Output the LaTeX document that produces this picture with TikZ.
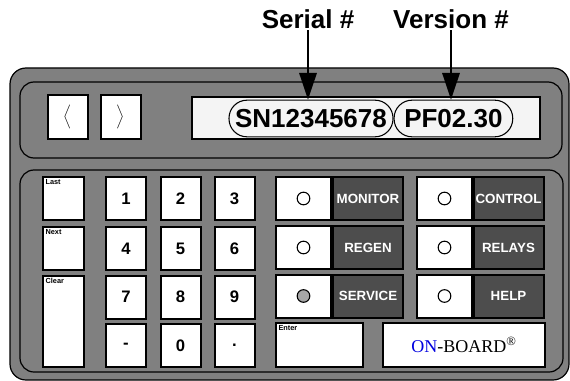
\documentclass[tikz,border=0pt]{standalone}
\usepackage{fontspec}
\setmainfont{Liberation Sans}
\newfontfamily\brandfont{Liberation Serif}
\usepackage{xcolor}
\usepackage{tikz}
\usetikzlibrary{arrows.meta,positioning}

\definecolor{casegray}{HTML}{808080}
\definecolor{keydark}{HTML}{4D4D4D}
\definecolor{lcdfill}{HTML}{F4F4F4}
\definecolor{ledgray}{HTML}{A6A6A6}
\definecolor{brandblue}{HTML}{0000E0}

\tikzset{
	key/.style={draw,line width=1.5pt,fill=white,minimum width=30pt,minimum height=32.25pt,inner sep=0pt,font=\fontsize{12.5}{14}\selectfont\bfseries},
	sidekey/.style={key,minimum width=30.75pt},
	ledkey/.style={key,minimum width=41pt},
	fnkey/.style={key,fill=keydark,text=white,minimum width=52.5pt,font=\fontsize{10}{12}\selectfont\bfseries},
	tag/.style={anchor=north west,inner sep=2.5pt,font=\fontsize{5.5}{6}\selectfont\bfseries},
	led/.style={draw,circle,line width=0.8pt,fill=white,minimum size=9.5pt,inner sep=0pt},
	oval/.style={draw,line width=0.8pt,rounded corners=13.5pt,minimum height=27.5pt,inner sep=0pt,font=\fontsize{19.5}{22}\selectfont\bfseries},
	callout/.style={inner sep=1pt,font=\fontsize{19.5}{22}\selectfont\bfseries},
	panel/.style={draw,line width=0.9pt,rounded corners=10.5pt},
	pointer/.style={-{Triangle[length=20pt,width=13pt]},line width=1.5pt}
}

\begin{document}
\begin{tikzpicture}[x=0.75pt,y=-0.75pt]
		\useasboundingbox (0,0) rectangle (570,381);
		% case
		\draw[fill=casegray,line width=0.9pt,rounded corners=12pt] (10,68) rectangle (569,380);
		\draw[panel] (20,82) rectangle (562,158);
		\draw[panel] (20,170) rectangle (563,372);
		%
		% display row
		\node[key,minimum height=33pt] (kl) at (68,117) {$\Big\langle$};
		\node[key,minimum height=33pt] (kr) at (120.5,117) {$\Big\rangle$};
		\node[draw,line width=1.5pt,fill=lcdfill,minimum width=261pt,minimum height=31.5pt] (lcd) at (366,118) {};
		\node[oval,minimum width=123pt] (sn) at (311,118.5) {SN12345678};
		\node[oval,minimum width=89pt,right=0pt of sn] (pf) {PF02.30};
		%
		\node[callout] (serial) at (308,19) {Serial \#};
		\node[callout] (version) at (451,19) {Version \#};
		\draw[pointer] (serial.south) -- (serial.south |- sn.north);
		\draw[pointer] (version.south) -- (version.south |- pf.north);
		%
		% side keys
		\node[sidekey,label={[tag]north west:Last}] (last) at (63.5,198.5) {};
		\node[sidekey,label={[tag]north west:Next}] (nxt) at (63.5,248.5) {};
		\node[sidekey,minimum height=68.25pt,label={[tag]north west:Clear}] (clear) at (63.5,321.5) {};
		%
		% number keys
		\node[key] (k1) at (126,198.5) {1};
		\node[key] (k2) at (180.5,198.5) {2};
		\node[key] (k3) at (234.5,198.5) {3};
		\node[key] (k4) at (126,248.5) {4};
		\node[key] (k5) at (180.5,248.5) {5};
		\node[key] (k6) at (234.5,248.5) {6};
		\node[key] (k7) at (126,297) {7};
		\node[key] (k8) at (180.5,297) {8};
		\node[key] (k9) at (234.5,297) {9};
		\node[key] (kdash) at (126,345.5) {-};
		\node[key] (k0) at (180.5,345.5) {0};
		\node[key] (kdot) at (234.5,345.5) {.};
		%
		% function keys with lamps
		\node[ledkey] (m1) at (303.5,198.5) {};
		\node[ledkey] (m2) at (303.5,247.5) {};
		\node[ledkey] (m3) at (303.5,296) {};
		\node[ledkey] (c1) at (444.5,198.5) {};
		\node[ledkey] (c2) at (444.5,247.5) {};
		\node[ledkey] (c3) at (444.5,296) {};
		\node[led] (lm1) at (m1) {};
		\node[led] (lm2) at (m2) {};
		\node[led,fill=ledgray] (lm3) at (m3) {};
		\node[led] (lc1) at (c1) {};
		\node[led] (lc2) at (c2) {};
		\node[led] (lc3) at (c3) {};
		\node[fnkey] (monitor) at (368,198.5) {MONITOR};
		\node[fnkey] (regen) at (368,247.5) {REGEN};
		\node[fnkey] (service) at (368,296) {SERVICE};
		\node[fnkey] (control) at (508.5,198.5) {CONTROL};
		\node[fnkey] (relays) at (508.5,247.5) {RELAYS};
		\node[fnkey] (help) at (508.5,296) {HELP};
		%
		% bottom row
		\node[key,minimum width=65.25pt,minimum height=33pt,label={[tag]north west:Enter}] (enter) at (319.5,345) {};
		\node[key,minimum width=121.5pt,minimum height=33pt,font=\brandfont\fontsize{13.5}{15}\selectfont] (brand) at (464,345) {\textcolor{brandblue}{ON}-BOARD\textsuperscript{\textregistered}};
	\end{tikzpicture}
\end{document}
